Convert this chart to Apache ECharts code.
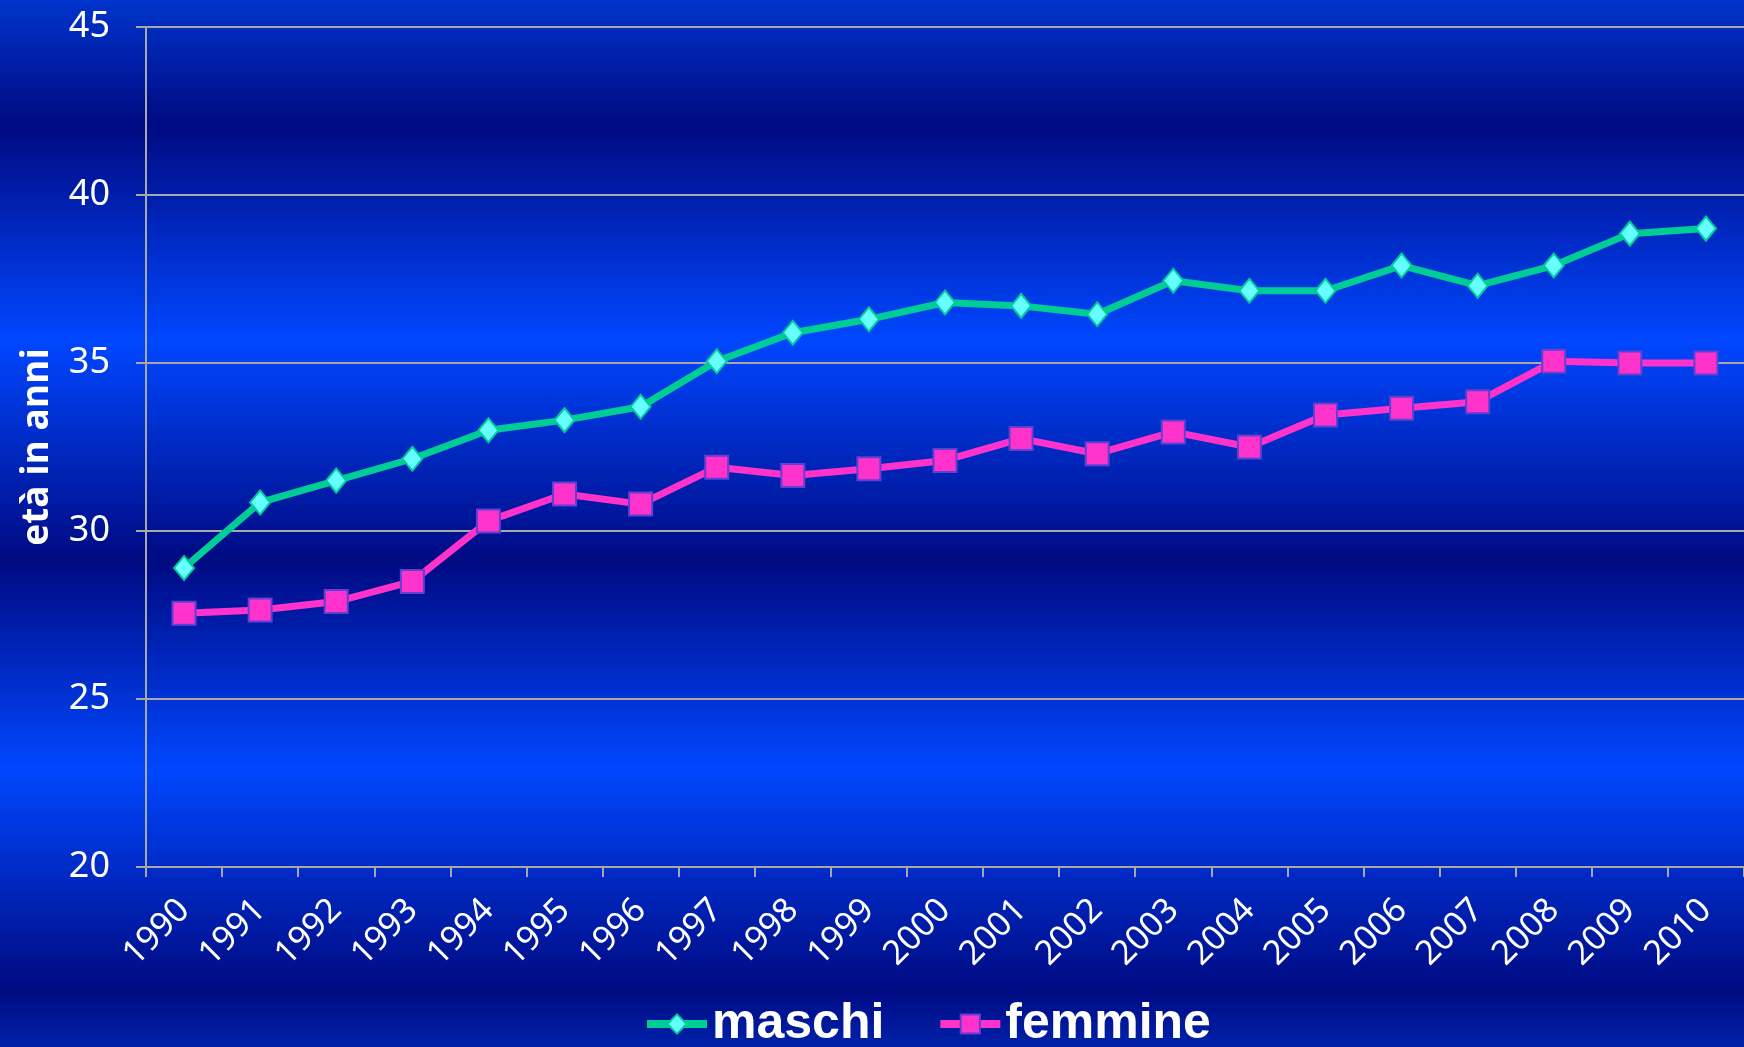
<!DOCTYPE html>
<html>
<head>
<meta charset="utf-8">
<script src="https://cdn.jsdelivr.net/npm/echarts@6/dist/echarts.min.js"></script>
<style>
html, body { margin: 0; padding: 0; }
#main { width: 1744px; height: 1047px; }
</style>
</head>
<body>
<div id="main"></div>
<script>
var anni = ['1990', '1991', '1992', '1993', '1994', '1995', '1996', '1997', '1998', '1999', '2000',
    '2001', '2002', '2003', '2004', '2005', '2006', '2007', '2008', '2009', '2010'];
var maschi = [28.9, 30.85, 31.5, 32.15, 33.0, 33.3, 33.7, 35.05, 35.9, 36.3, 36.8,
    36.7, 36.45, 37.45, 37.15, 37.15, 37.9, 37.3, 37.9, 38.85, 39.0];
var femmine = [27.55, 27.65, 27.9, 28.5, 30.3, 31.1, 30.8, 31.9, 31.65, 31.85, 32.1,
    32.75, 32.3, 32.95, 32.5, 33.45, 33.65, 33.85, 35.05, 35.0, 35.0];
var nomi = ['maschi', 'femmine'];

var myChart = echarts.init(document.getElementById('main'));

var grigio = '#a8a8a8';
var option = {
    backgroundColor: new echarts.graphic.LinearGradient(0, 0, 0, 1, [
        { offset: 0, color: '#0034cc' },
        { offset: 0.12, color: '#000a82' },
        { offset: 0.325, color: '#0047ff' },
        { offset: 0.535, color: '#000a82' },
        { offset: 0.735, color: '#0047ff' },
        { offset: 0.945, color: '#000a82' },
        { offset: 1, color: '#0022aa' }
    ]),
    grid: {
        left: 146,
        right: 0,
        top: 27,
        bottom: 180
    },
    legend: {
        data: nomi,
        left: 638,
        top: 994,
        itemWidth: 60,
        itemHeight: 24,
        itemGap: 52,
        lineStyle: { width: 8 },
        textStyle: {
            color: '#ffffff',
            fontSize: 50,
            fontWeight: 'bold',
            fontFamily: 'Liberation Sans'
        }
    },
    xAxis: {
        type: 'category',
        data: anni,
        boundaryGap: true,
        axisLine: { lineStyle: { color: grigio, width: 2 } },
        axisTick: { show: true, length: 10, lineStyle: { color: grigio, width: 2 } },
        axisLabel: {
            rotate: 45,
            margin: 38,
            interval: 0,
            color: '#ffffff',
            fontSize: 34,
            fontFamily: 'Noto Sans'
        },
        splitLine: { show: false }
    },
    yAxis: {
        type: 'value',
        min: 20,
        max: 45,
        interval: 5,
        name: 'età in anni',
        nameLocation: 'middle',
        nameRotate: 90,
        nameGap: 90,
        nameTextStyle: {
            color: '#ffffff',
            fontSize: 37,
            fontWeight: 'bold',
            fontFamily: 'Open Sans'
        },
        axisLine: { show: true, lineStyle: { color: grigio, width: 2 } },
        axisTick: { show: true, length: 10, lineStyle: { color: grigio, width: 2 } },
        axisLabel: {
            margin: 36,
            color: '#ffffff',
            fontSize: 36,
            fontFamily: 'Noto Sans'
        },
        splitLine: { lineStyle: { color: grigio, width: 2 } }
    },
    series: [{
            name: 'maschi',
            type: 'line',
            data: maschi,
            symbol: 'diamond',
            symbolSize: [20, 24],
            lineStyle: { color: '#00cc96', width: 7 },
            itemStyle: { color: '#66ffff', borderColor: '#00cc96', borderWidth: 2 },
            z: 3
        },
        {
            name: 'femmine',
            type: 'line',
            data: femmine,
            symbol: 'rect',
            symbolSize: 23,
            lineStyle: { color: '#ff33cc', width: 7 },
            itemStyle: { color: '#ff33cc', borderColor: '#6040d0', borderWidth: 2 },
            z: 2
        }
    ]
};

myChart.setOption(option);
</script>
</body>
</html>
